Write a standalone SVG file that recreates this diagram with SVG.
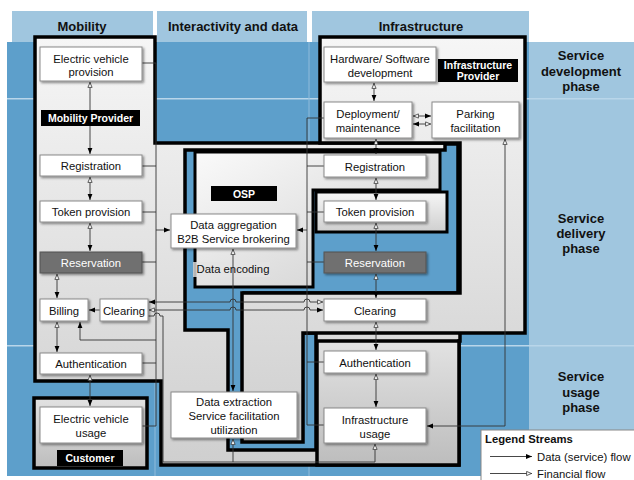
<svg xmlns="http://www.w3.org/2000/svg" width="634" height="480" viewBox="0 0 634 480">
<defs>
<style>
.hdr{font-family:"Liberation Sans",Arial,sans-serif;font-weight:bold;font-size:13px;fill:#111;text-anchor:middle}
.ph{font-family:"Liberation Sans",Arial,sans-serif;font-weight:bold;font-size:13px;fill:#111;text-anchor:middle}
.t{font-family:"Liberation Sans",Arial,sans-serif;font-size:11.3px;fill:#111;text-anchor:middle}
.tw{font-family:"Liberation Sans",Arial,sans-serif;font-size:11.3px;fill:#fff;text-anchor:middle}
.lb{font-family:"Liberation Sans",Arial,sans-serif;font-weight:bold;font-size:10.5px;fill:#fff;text-anchor:middle}
.box{fill:#fff;stroke:#8a8a8a;stroke-width:1;filter:url(#sh)}
.dbox{fill:#6f6f6f;stroke:#555;stroke-width:1;filter:url(#sh)}
.reg{fill:url(#g1);stroke:#000;stroke-width:3.5;stroke-linejoin:miter}
.regd{fill:url(#g2);stroke:#000;stroke-width:3.5}
.osp{fill:#5d9fcb;stroke:#000;stroke-width:3.5}
.c{fill:none;stroke:#333;stroke-width:0.9}
.cs{fill:none;stroke:#333;stroke-width:0.9;marker-end:url(#sol)}
.ch{fill:none;stroke:#333;stroke-width:0.9;marker-end:url(#hol)}
.hs{fill:none;stroke:#333;stroke-width:0.9;marker-start:url(#hol);marker-end:url(#sol)}
.sh2{fill:none;stroke:#333;stroke-width:0.9;marker-start:url(#sol);marker-end:url(#hol)}
.lbl{fill:#000}
</style>
<linearGradient id="g1" x1="0" y1="0" x2="0" y2="1">
<stop offset="0" stop-color="#f6f6f6"/><stop offset="1" stop-color="#cfcfcf"/>
</linearGradient>
<linearGradient id="g2" x1="0" y1="0" x2="0" y2="1">
<stop offset="0" stop-color="#e2e2e2"/><stop offset="1" stop-color="#bdbdbd"/>
</linearGradient>
<linearGradient id="g3" x1="0" y1="0" x2="1" y2="1">
<stop offset="0" stop-color="#fafafa"/><stop offset="1" stop-color="#cdcdcd"/>
</linearGradient>
<filter id="sh" x="-10%" y="-10%" width="130%" height="140%">
<feDropShadow dx="1.5" dy="1.5" stdDeviation="1" flood-color="#000" flood-opacity="0.45"/>
</filter>
<marker id="sol" viewBox="0 0 10 10" refX="10" refY="5" markerWidth="6" markerHeight="6" markerUnits="userSpaceOnUse" orient="auto-start-reverse">
<path d="M0,1 L10,5 L0,9 z" fill="#000"/>
</marker>
<marker id="hol" viewBox="0 0 10 10" refX="10" refY="5" markerWidth="6" markerHeight="6" markerUnits="userSpaceOnUse" orient="auto-start-reverse">
<path d="M1,1.5 L9,5 L1,8.5 z" fill="#fff" stroke="#333" stroke-width="1.3"/>
</marker>
</defs>

<g id="background">
<rect x="12" y="11" width="141" height="31" fill="#a0c6df"/>
<rect x="157" y="11" width="150" height="31" fill="#a0c6df"/>
<rect x="312" y="11" width="217" height="31" fill="#a0c6df"/>
<rect x="7" y="42" width="522" height="434" fill="#5d9fcb"/>
<rect x="529" y="42" width="105" height="434" fill="#a0c6df"/>
<rect x="7" y="98" width="627" height="1.5" fill="#b9d6ea"/>
<rect x="7" y="345" width="627" height="1.5" fill="#b9d6ea"/>
<rect x="154" y="42" width="2" height="434" fill="#8fbcdc" opacity="0.5"/>
<rect x="308" y="42" width="2" height="434" fill="#8fbcdc" opacity="0.5"/>
<text class="hdr" x="82" y="31">Mobility</text>
<text class="hdr" x="233" y="31">Interactivity and data</text>
<text class="hdr" x="421" y="31">Infrastructure</text>
<text class="ph" x="581" y="60">Service</text>
<text class="ph" x="581" y="76">development</text>
<text class="ph" x="581" y="91">phase</text>
<text class="ph" x="581" y="223">Service</text>
<text class="ph" x="581" y="238">delivery</text>
<text class="ph" x="581" y="253">phase</text>
<text class="ph" x="581" y="381">Service</text>
<text class="ph" x="581" y="397">usage</text>
<text class="ph" x="581" y="412">phase</text>
</g>

<g id="regions">
<polygon id="mobility-provider-region" class="reg" points="35,37 155,37 155,143 460,143 460,341 459,341 459,465 161,465 161,381 35,381"/>
<polygon id="osp-region" class="osp" points="185,150 445,150 445,144 458,144 458,293 244,293 244,440 301,440 301,333 316,333 316,450 228,450 228,330 185,330"/>
<polygon id="infrastructure-provider-region" class="reg" points="320,37 525,37 525,333 303,333 303,442 242,442 242,293 460,293 460,143 320,143"/>
<polygon id="osp-box" class="reg" style="fill:url(#g3);stroke-width:3" points="195,152 440,152 440,190 313,190 313,287 195,287"/>
<rect id="token-wrapper" class="reg" style="stroke-width:3" x="316" y="192" width="131" height="40"/>
<rect id="usage-region" class="regd" x="317" y="341" width="142" height="124"/>
<rect id="customer-region" class="regd" x="34" y="398" width="113" height="70"/>
<rect x="193" y="262" width="77" height="15" fill="#e4e4e4" opacity="0.8"/>
</g>

<g id="connectors">
<path class="hs" d="M90,82 V154"/>
<path class="hs" d="M90,177 V200"/>
<path class="hs" d="M90,223 V251"/>
<path class="hs" d="M57,274 V298"/>
<path class="hs" d="M57,322 V352"/>
<path class="hs" d="M90,375 V406"/>
<path class="hs" d="M374,83 V101"/>
<path class="hs" d="M376,139 V154"/>
<path class="hs" d="M376,178 V200"/>
<path class="hs" d="M376,223 V251"/>
<path class="hs" d="M376,274 V298"/>
<path class="hs" d="M376,322 V350"/>
<path class="hs" d="M376,374 V407"/>
<path class="hs" d="M233,249 V391"/>
<path class="hs" d="M413,116 H431"/>
<path class="sh2" d="M413,124 H431"/>
<path class="cs" d="M100,310 H89"/>
<path class="sh2" d="M149,302 H230 a3,3 0 0 1 6,0 H304 a3,3 0 0 1 6,0 H323"/>
<path class="hs" d="M149,310 H230 a3,3 0 0 1 6,0 H304 a3,3 0 0 1 6,0 H323"/>
<path class="ch" d="M148,316 H154 a3,3 0 0 1 6,0 H163 V462 H375 V444"/>
<path class="ch" d="M233,462 V439"/>
<path class="c" d="M142,63 H156 V426 H142"/>
<path class="c" d="M142,166 H156 M142,212 H156 M142,262 H156 M142,363 H156"/>
<path class="cs" d="M156,230 H170"/>
<path class="cs" d="M156,340 H80 V322"/>
<path class="c" d="M324,118 H307 V425 H324"/>
<path class="c" d="M307,166 H324 M307,212 H324 M307,262 H324 M307,362 H324"/>
<path class="cs" d="M307,230 H297"/>
<path class="hs" d="M505,139 V426 H427"/>
</g>

<g id="n-ev-provision"><rect class="box" x="40" y="47" width="102" height="34"/><text class="t" x="91" y="62.5">Electric vehicle</text><text class="t" x="91" y="76">provision</text></g>
<g id="l-mobility-provider"><rect class="lbl" x="41" y="110" width="99" height="16"/><text class="lb" x="90.5" y="122">Mobility Provider</text></g>
<g id="n-registration-m"><rect class="box" x="40" y="155" width="102" height="21"/><text class="t" x="91" y="170">Registration</text></g>
<g id="n-token-m"><rect class="box" x="40" y="201" width="102" height="21"/><text class="t" x="91" y="216">Token provision</text></g>
<g id="n-reservation-m"><rect class="dbox" x="40" y="252" width="102" height="21"/><text class="tw" x="91" y="267">Reservation</text></g>
<g id="n-billing"><rect class="box" x="40" y="299" width="48" height="22"/><text class="t" x="64" y="314.5">Billing</text></g>
<g id="n-clearing-m"><rect class="box" x="100" y="299" width="48" height="22"/><text class="t" x="124" y="314.5">Clearing</text></g>
<g id="n-authentication-m"><rect class="box" x="40" y="353" width="102" height="21"/><text class="t" x="91" y="368">Authentication</text></g>
<g id="n-ev-usage"><rect class="box" x="40" y="407" width="102" height="36"/><text class="t" x="91" y="423">Electric vehicle</text><text class="t" x="91" y="437">usage</text></g>
<g id="l-customer"><rect class="lbl" x="57" y="450" width="66" height="16"/><text class="lb" x="90" y="462">Customer</text></g>

<g id="l-osp"><rect class="lbl" x="211" y="186" width="66" height="15"/><text class="lb" x="244" y="197.5">OSP</text></g>
<g id="n-data-aggregation"><rect class="box" x="171" y="214" width="125" height="34"/><text class="t" x="233.5" y="228.7">Data aggregation</text><text class="t" x="233.5" y="242.7">B2B Service brokering</text></g>
<g id="n-data-encoding"><text class="t" x="233" y="273">Data encoding</text></g>
<g id="n-data-extraction"><rect class="box" x="171" y="392" width="126" height="46"/><text class="t" x="234" y="405.5">Data extraction</text><text class="t" x="234" y="420">Service facilitation</text><text class="t" x="234" y="434">utilization</text></g>

<g id="n-hw-sw"><rect class="box" x="324" y="47" width="112" height="35"/><text class="t" x="380" y="62.5">Hardware/ Software</text><text class="t" x="380" y="76.5">development</text></g>
<g id="l-infrastructure-provider"><rect class="lbl" x="438" y="59" width="80" height="23"/><text class="lb" x="478" y="68.5">Infrastructure</text><text class="lb" x="478" y="80">Provider</text></g>
<g id="n-deployment"><rect class="box" x="324" y="102" width="88" height="36"/><text class="t" x="368" y="118">Deployment/</text><text class="t" x="368" y="131.5">maintenance</text></g>
<g id="n-parking"><rect class="box" x="432" y="102" width="87" height="36"/><text class="t" x="475.5" y="118">Parking</text><text class="t" x="475.5" y="131.5">facilitation</text></g>
<g id="n-registration-i"><rect class="box" x="324" y="155" width="102" height="22"/><text class="t" x="375" y="170.5">Registration</text></g>
<g id="n-token-i"><rect class="box" x="324" y="201" width="102" height="21"/><text class="t" x="375" y="216">Token provision</text></g>
<g id="n-reservation-i"><rect class="dbox" x="324" y="252" width="102" height="21"/><text class="tw" x="375" y="267">Reservation</text></g>
<g id="n-clearing-i"><rect class="box" x="324" y="299" width="102" height="22"/><text class="t" x="375" y="314.5">Clearing</text></g>
<g id="n-authentication-i"><rect class="box" x="324" y="351" width="102" height="22"/><text class="t" x="375" y="366.5">Authentication</text></g>
<g id="n-infrastructure-usage"><rect class="box" x="324" y="408" width="102" height="35"/><text class="t" x="375" y="424">Infrastructure</text><text class="t" x="375" y="438">usage</text></g>

<g id="legend">
<rect x="481" y="430" width="160" height="55" fill="#fff" stroke="#888" stroke-width="1"/>
<text x="485" y="443" style="font-family:'Liberation Sans',Arial,sans-serif;font-weight:bold;font-size:11.3px;fill:#111">Legend Streams</text>
<path class="cs" d="M490,456.5 H532"/>
<path class="ch" d="M490,473.5 H532"/>
<text x="537" y="460.5" style="font-family:'Liberation Sans',Arial,sans-serif;font-size:11.3px;fill:#111">Data (service) flow</text>
<text x="537" y="477.5" style="font-family:'Liberation Sans',Arial,sans-serif;font-size:11.3px;fill:#111">Financial flow</text>
</g>
</svg>
